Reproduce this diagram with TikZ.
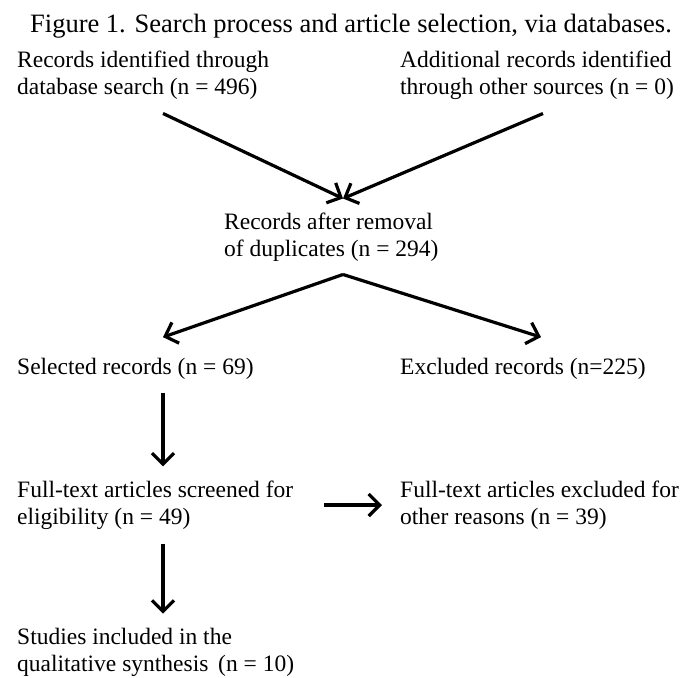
\documentclass[tikz,border=0pt]{standalone}
\usepackage{fontspec}
\setmainfont{Liberation Serif}
\usetikzlibrary{arrows.meta}
\tikzset{
  prsnote/.style={
    align=left,
    anchor=west,
    inner sep=0pt,
    font=\fontsize{23.5}{27}\selectfont
  },
  prstitle/.style={
    inner sep=0pt,
    font=\fontsize{26.5}{30}\selectfont
  },
  prsarrow/.style={-{Straight Barb[length=11pt,width=22pt,line width=3.2pt]},line width=3.2pt,draw=black}
}

\begin{document}
\begin{tikzpicture}[x=1pt,y=-1pt]
        \useasboundingbox (0,0) rectangle (681,678);
        \node[prstitle] (title) at (351,26) {Figure 1. Search process and article selection, via databases.};
        \node[prsnote] (dbsrc) at (17,75) {Records identified through\\database search (n = 496)};
        \node[prsnote] (othsrc) at (400,75) {Additional records identified\\through other sources (n = 0)};
        \node[prsnote] (dedup) at (224,237) {Records after removal\\of duplicates (n = 294)};
        \node[prsnote] (selected) at (17,369) {Selected records (n = 69)};
        \node[prsnote] (excluded) at (400,369) {Excluded records (n=225)};
        \node[prsnote] (screened) at (17,505) {Full-text articles screened for\\eligibility (n = 49)};
        \node[prsnote] (ftexcl) at (400,505) {Full-text articles excluded for\\other reasons (n = 39)};
        \node[prsnote] (included) at (17,652) {Studies included in the\\qualitative synthesis\, (n = 10)};
        \draw[prsarrow] ([xshift=146pt,yshift=-14pt]dbsrc.south west) -- ([xshift=119pt,yshift=14pt]dedup.north west);
        \draw[prsarrow] ([xshift=143pt,yshift=-14pt]othsrc.south west) -- ([xshift=119pt,yshift=14pt]dedup.north west);
        \draw[prsarrow] ([xshift=119pt,yshift=-13pt]dedup.south west) -- ([xshift=146pt,yshift=21pt]selected.north west);
        \draw[prsarrow] ([xshift=119pt,yshift=-13pt]dedup.south west) -- ([xshift=141pt,yshift=21pt]excluded.north west);
        \draw[prsarrow] ([xshift=146pt,yshift=-13pt]selected.south west) coordinate (sel5) -- ([yshift=14pt]sel5 |- screened.north);
        \draw[prsarrow] ([xshift=307pt]screened.west) -- ([xshift=-18pt]ftexcl.west);
        \draw[prsarrow] ([xshift=146pt,yshift=-14pt]screened.south west) coordinate (scr7) -- ([yshift=14pt]scr7 |- included.north);
      \end{tikzpicture}
\end{document}
